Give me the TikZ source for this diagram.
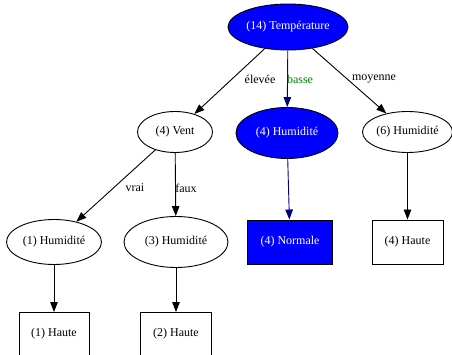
\documentclass[tikz,border=0pt]{standalone}
\usepackage{fontspec}
\setmainfont{Liberation Serif}
\usetikzlibrary{arrows.meta,shapes.geometric}
\definecolor{edgenavy}{RGB}{0,0,128}
\definecolor{labelgreen}{RGB}{0,128,0}
\tikzset{
  every node/.style={font=\fontsize{12}{14}\selectfont, inner sep=0pt},
  oval/.style={ellipse, draw=black, line width=0.9pt},
  leaf/.style={rectangle, draw=black, line width=0.9pt, minimum height=43pt},
  hot/.style={fill=blue, text=white},
  link/.style={draw=black, line width=0.9pt, -{Triangle[length=10pt,width=7.5pt]}},
  navylink/.style={link, draw=edgenavy, -{Triangle[length=10pt,width=7.5pt,fill=edgenavy]}},
  lbl/.style={font=\fontsize{12}{14}\selectfont}
}
\begin{document}
\begin{tikzpicture}[x=1pt,y=-1pt]
  \useasboundingbox (0,0) rectangle (452,355);
  % decision nodes
  \node[oval, hot, minimum width=120pt, minimum height=46pt] (temp) at (288,27) {(14) Température};
  \node[oval, minimum width=75pt, minimum height=41pt] (vent) at (175,132) {(4) Vent};
  \node[oval, hot, minimum width=102pt, minimum height=51pt] (humB) at (287,133) {(4) Humidité};
  \node[oval, minimum width=90pt, minimum height=41pt] (humM) at (407.5,132) {(6) Humidité};
  \node[oval, minimum width=95pt, minimum height=45pt] (humV) at (54,242) {(1) Humidité};
  \node[oval, minimum width=104pt, minimum height=51pt] (humF) at (176,242) {(3) Humidité};
  % leaves
  \node[leaf, minimum width=70pt] (hauteV) at (54,334) {(1) Haute};
  \node[leaf, minimum width=71pt] (hauteF) at (176,334) {(2) Haute};
  \node[leaf, hot, minimum width=85pt, minimum height=44pt] (normale) at (290,242) {(4) Normale};
  \node[leaf, minimum width=71pt, minimum height=44pt] (hauteM) at (407.5,242) {(4) Haute};
  % edges
  \draw[link] (temp) -- (vent);
  \draw[navylink] (temp) -- (humB);
  \draw[link] (temp) -- (humM);
  \draw[link] (vent) -- (humV);
  \draw[link] (vent) -- (humF);
  \draw[navylink] (humB) -- (normale);
  \draw[link] (humM) -- (hauteM);
  \draw[link] (humV) -- (hauteV);
  \draw[link] (humF) -- (hauteF);
  % edge labels
  \node[lbl] (lElev) at (260,79) {élevée};
  \node[lbl, text=labelgreen] (lBasse) at (300,79) {basse};
  \node[lbl] (lMoy) at (374,79) {moyenne};
  \node[lbl] (lVrai) at (135,188) {vrai};
  \node[lbl] (lFaux) at (186,188) {faux};
\end{tikzpicture}
\end{document}
